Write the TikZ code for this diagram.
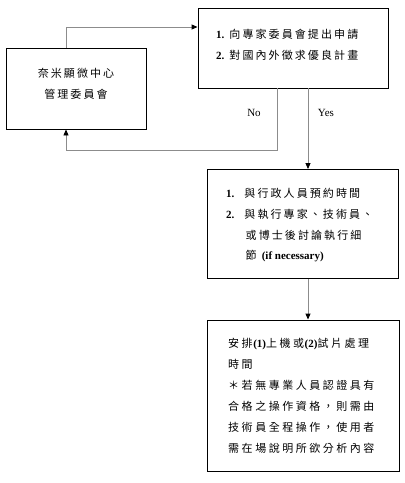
\documentclass[tikz,border=0pt]{standalone}
\usepackage{fontspec}
\setmainfont{Liberation Serif}
\newfontfamily\cjk{Noto Sans CJK TC}[LetterSpace=19]
\newfontfamily\cjkw{Noto Sans CJK TC}[LetterSpace=23]
\usetikzlibrary{arrows.meta}
\begin{document}
\begin{tikzpicture}[x=1pt,y=-1pt,
  box/.style={draw=black,line width=0.9pt,inner sep=0pt},
  conn/.style={draw=black!45,line width=0.9pt},
  tip/.style={-{Triangle[length=6pt,width=5pt,fill=black,color=black]}},
  txt/.style={anchor=west,inner sep=0pt,font=\fontsize{11}{13}\selectfont},
  lbl/.style={inner sep=0pt,font=\fontsize{11}{13}\selectfont}]
\useasboundingbox (0,0) rectangle (405,483);
% boxes
\node[box,minimum width=140pt,minimum height=81pt] (A) at (76,88.5) {};
\node[box,minimum width=190pt,minimum height=80pt] (B) at (293,48) {};
\node[box,minimum width=191pt,minimum height=109pt] (C) at (302.5,224) {};
\node[box,minimum width=192pt,minimum height=151pt] (D) at (303,395.5) {};
% box A text
\node[lbl] (a1) at (76,73) {\cjk 奈米顯微中心};
\node[lbl] (a2) at (76,94) {\cjk 管理委員會};
% box B text
\node[txt] (b1) at (216,34) {\textbf{1.}\hspace{5pt}\cjk 向專家委員會提出申請};
\node[txt] (b2) at (216,55) {\textbf{2.}\hspace{5pt}\cjk 對國內外徵求優良計畫};
% box C text
\node[txt] (c1) at (226,193) {\textbf{1.}\hspace{10pt}\cjk 與行政人員預約時間};
\node[txt] (c2) at (226,214) {\textbf{2.}\hspace{10pt}\cjk 與執行專家、技術員、};
\node[txt] (c3) at (245.5,235) {\cjk 或博士後討論執行細};
\node[txt] (c4) at (245.5,256) {{\cjk 節}\hspace{3pt}\textbf{(if necessary)}};
% box D text
\node[txt] (d1) at (228,344) {{\cjkw 安排}\hspace{-2pt}\textbf{(1)}{\cjkw 上機或}\hspace{-2pt}\textbf{(2)}{\cjkw 試片處理}};
\node[txt] (d2) at (228,364) {\cjkw 時間};
\node[txt] (d3) at (228,385) {\cjkw ＊若無專業人員認證具有};
\node[txt] (d4) at (228,406) {\cjkw 合格之操作資格，則需由};
\node[txt] (d5) at (228,427) {\cjkw 技術員全程操作，使用者};
\node[txt] (d6) at (228,448) {\cjkw 需在場說明所欲分析內容};
% labels
\node[lbl] (no) at (254,113) {No};
\node[lbl] (yes) at (326,113) {Yes};
% connectors
\coordinate (ta) at (66,27);
\coordinate (nb) at (277,150);
\coordinate (na) at (66,150);
\draw[conn,tip] (A.north -| ta) -- (ta) -- (B.west |- ta);
\draw[conn,tip] (B.south -| nb) -- (nb) -- (na) -- (A.south -| na);
\draw[conn,tip] (B.south -| 308,0) -- (C.north -| 308,0);
\draw[conn,tip] (C.south -| 308,0) -- (D.north -| 308,0);
\end{tikzpicture}
\end{document}
